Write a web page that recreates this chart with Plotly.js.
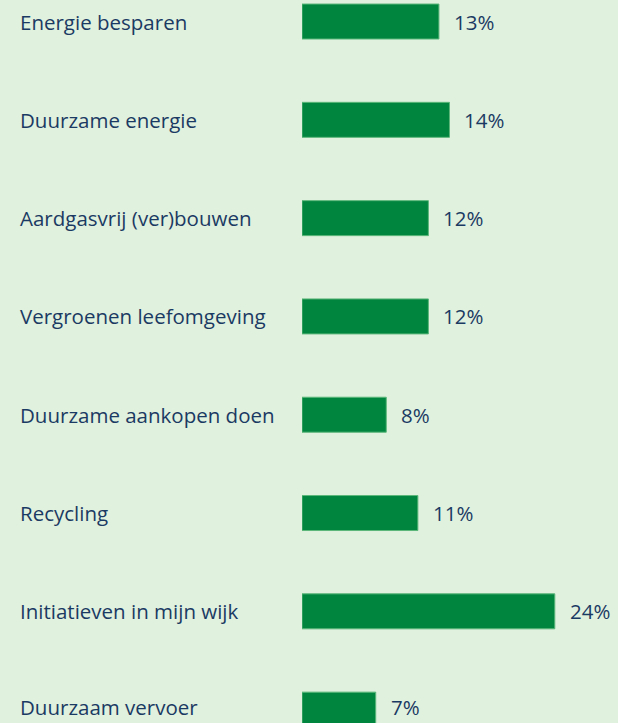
<!DOCTYPE html>
<html>
<head>
<meta charset="utf-8">
<script src="https://cdn.plot.ly/plotly-3.0.1.min.js"></script>
<style>html,body{margin:0;padding:0;background:#e0f1de;}#chart{width:618px;height:723px;}</style>
</head>
<body>
<div id="chart"></div>
<script>
const categories = ["Energie besparen","Duurzame energie","Aardgasvrij (ver)bouwen","Vergroenen leefomgeving","Duurzame aankopen doen","Recycling","Initiatieven in mijn wijk","Duurzaam vervoer"];
const values = [13,14,12,12,8,11,24,7];
const valueLabels = ["13%","14%","12%","12%","8%","11%","24%","7%"];

const textColor = "#1b3a63";
const fontFam = "Open Sans, Noto Sans, sans-serif";

const annotations = [];
categories.forEach((c,i)=>{
  const ys = (i === categories.length-1) ? 3 : 0;
  annotations.push({xref:"paper", yref:"y", x:-284/316, y:c, text:c, showarrow:false, xanchor:"left", yanchor:"middle", yshift:ys, font:{family:fontFam,size:20.5,color:textColor}});
  annotations.push({xref:"x", yref:"y", x:values[i], y:c, text:valueLabels[i], showarrow:false, xanchor:"left", yanchor:"middle", yshift:ys, xshift:13, font:{family:fontFam,size:20.5,color:textColor}});
});

Plotly.newPlot("chart",[{
  type:"bar", orientation:"h", x:values, y:categories,
  marker:{color:"#00853f", line:{color:"#5cb77a", width:1}},
  hoverinfo:"none"
}],{
  width:618, height:723,
  margin:{l:302,r:0,t:0,b:0},
  paper_bgcolor:"#e0f1de", plot_bgcolor:"#e0f1de",
  bargap:0.644,
  xaxis:{range:[0,30], visible:false, fixedrange:true},
  yaxis:{type:"category", range:[7.136,-0.219], showticklabels:false, showgrid:false, zeroline:false, showline:false, ticks:"", fixedrange:true},
  annotations:annotations,
  showlegend:false
},{staticPlot:true});
</script>
</body>
</html>
